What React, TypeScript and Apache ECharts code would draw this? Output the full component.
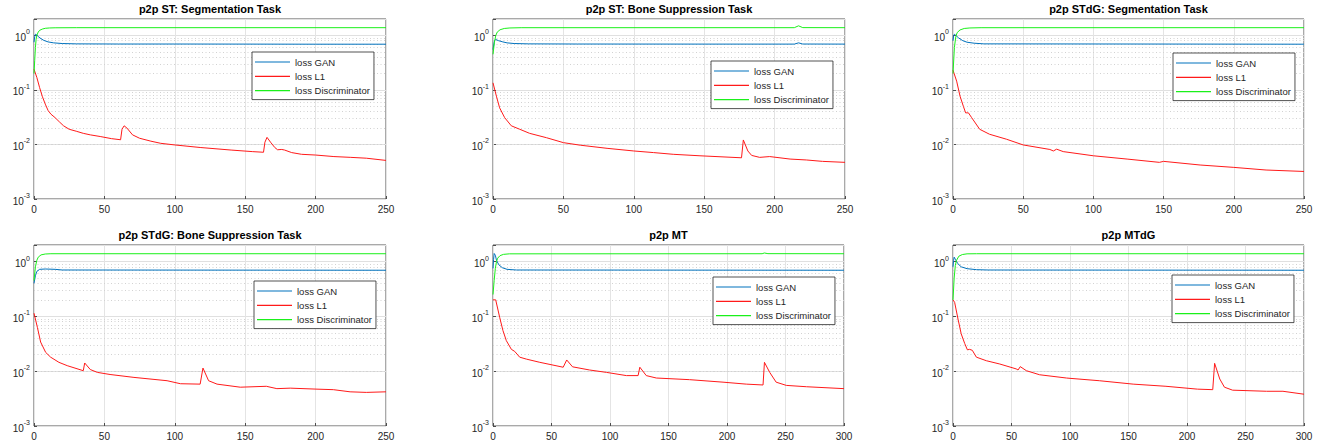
import React, { useEffect, useRef } from "react";
import * as echarts from "echarts";

const SERIES_NAMES = ["loss GAN", "loss L1", "loss Discriminator"];
const COLORS = ["#0072BD", "#FF1A1A", "#1AF01A"];
const TITLES = [
  "p2p ST: Segmentation Task",
  "p2p ST: Bone Suppression Task",
  "p2p STdG: Segmentation Task",
  "p2p STdG: Bone Suppression Task",
  "p2p MT",
  "p2p MTdG",
];
const X_MAX = [250, 250, 250, 250, 300, 300];
const X_INTERVAL = 50;
const Y_MIN = 0.001;
const Y_MAX = 2;
const MINOR_Y = [
  0.002, 0.003, 0.004, 0.005, 0.006, 0.007, 0.008, 0.009,
  0.02, 0.03, 0.04, 0.05, 0.06, 0.07, 0.08, 0.09,
  0.2, 0.3, 0.4, 0.5, 0.6, 0.7, 0.8, 0.9,
];

// ---- p2p ST: Segmentation Task ----
const st_seg_gan = [[0,0.75],[0.5,0.95],[1,1.05],[2,1.02],[3,0.95],[5,0.87],[7,0.81],[10,0.76],[14,0.73],[20,0.71],[30,0.70],[60,0.695],[100,0.695],[150,0.693],[200,0.69],[250,0.69]];
const st_seg_l1 = [[0,0.24],[2,0.17],[4,0.11],[6,0.075],[8,0.055],[10,0.042],[12,0.036],[15,0.031],[18,0.026],[21,0.022],[25,0.019],[30,0.0175],[35,0.016],[40,0.015],[47,0.014],[55,0.0128],[61.5,0.0122],[62.5,0.019],[64,0.022],[66,0.02],[70,0.015],[75,0.013],[83,0.0115],[90,0.0105],[100,0.0098],[118,0.0088],[140,0.0079],[155,0.0074],[163,0.0072],[164,0.011],[165.5,0.0135],[168,0.011],[171,0.0088],[173,0.008],[176,0.0081],[178,0.0079],[183,0.0071],[190,0.0066],[200,0.0064],[213,0.006],[225,0.0058],[236,0.0056],[250,0.0051]];
const st_seg_disc = [[0,0.2],[0.5,0.35],[1,0.6],[1.5,0.85],[2,1.0],[3,1.15],[4,1.24],[6,1.31],[8,1.35],[11,1.37],[15,1.38],[30,1.386],[250,1.386]];

// ---- p2p ST: Bone Suppression Task ----
const st_bone_gan = [[0,0.55],[1,0.8],[2,0.84],[4,0.8],[7,0.76],[10,0.73],[15,0.71],[25,0.70],[60,0.695],[150,0.693],[214,0.693],[217,0.73],[220,0.695],[250,0.693]];
const st_bone_l1 = [[0,0.135],[2.4,0.077],[4.7,0.047],[8.3,0.031],[13,0.022],[19,0.019],[26,0.016],[38,0.0133],[50,0.0108],[62,0.0097],[81,0.0085],[100,0.0076],[114,0.0071],[128,0.0066],[147,0.0062],[176.5,0.0057],[177.8,0.0121],[181,0.0076],[183.7,0.0063],[189.4,0.0058],[196.5,0.006],[211,0.0054],[222.5,0.0052],[234,0.0049],[250,0.0047]];
const st_bone_disc = [[0,0.45],[1,0.75],[2,1.0],[3,1.15],[5,1.27],[8,1.34],[12,1.37],[20,1.385],[214,1.386],[217,1.5],[220,1.39],[250,1.386]];

// ---- p2p STdG: Segmentation Task ----
const stdg_seg_gan = [[0,0.8],[0.5,1.0],[1,1.05],[2,1.0],[4,0.9],[7,0.8],[10,0.75],[15,0.72],[22,0.70],[250,0.69]];
const stdg_seg_l1 = [[0,0.23],[2.6,0.145],[5,0.077],[7.4,0.05],[9,0.038],[11,0.038],[13.3,0.031],[19,0.019],[26,0.0154],[38,0.0125],[50,0.0098],[69,0.0081],[71.5,0.0076],[73.8,0.0082],[78.5,0.0074],[100,0.0062],[124,0.0054],[147,0.0047],[150,0.0049],[176,0.0042],[200,0.0038],[223,0.0034],[250,0.0032]];
const stdg_seg_disc = [[0,0.2],[1,0.6],[2,0.95],[3,1.13],[5,1.26],[8,1.34],[12,1.37],[20,1.385],[250,1.386]];

// ---- p2p STdG: Bone Suppression Task ----
const stdg_bone_gan = [[0,0.4],[1,0.55],[2,0.66],[4,0.72],[8,0.73],[15,0.72],[20,0.70],[250,0.693]];
const stdg_bone_l1 = [[0,0.114],[2.4,0.063],[4.7,0.034],[8.3,0.022],[11.8,0.018],[17.7,0.0145],[23.6,0.0126],[35,0.0102],[36,0.0141],[40,0.0107],[45,0.0095],[54,0.0087],[71,0.0077],[94.5,0.0067],[104,0.0059],[118,0.0058],[120,0.0114],[124,0.0067],[130,0.0058],[146.5,0.0051],[165,0.0053],[172.5,0.0048],[182,0.0049],[201,0.0047],[212.6,0.0046],[224.5,0.0042],[236,0.0041],[250,0.0042]];
const stdg_bone_disc = [[0,0.45],[1,0.8],[2,1.05],[3,1.2],[5,1.32],[8,1.37],[12,1.386],[250,1.386]];

// ---- p2p MT ----
const mt_gan = [[0,0.75],[0.5,1.1],[1,1.4],[2,1.3],[3,1.05],[5,0.87],[8,0.77],[12,0.72],[20,0.70],[300,0.693]];
const mt_l1 = [[0,0.2],[2.3,0.2],[5.7,0.096],[8.5,0.055],[11.4,0.036],[15.7,0.025],[18.5,0.023],[22.8,0.018],[28.5,0.0166],[40,0.0145],[60,0.0118],[63,0.016],[68,0.012],[82.6,0.0105],[97,0.0095],[114,0.0083],[124,0.0083],[125.5,0.0118],[131,0.0083],[139.6,0.0075],[168,0.007],[196.6,0.0063],[216.5,0.0058],[230.8,0.0056],[232,0.0145],[236.5,0.0095],[242,0.0063],[250.7,0.0055],[268,0.0052],[300,0.0048]];
const mt_disc = [[0,0.25],[1,0.45],[2,0.75],[3,1.0],[4,1.15],[6,1.28],[9,1.35],[14,1.38],[230,1.386],[232,1.43],[235,1.39],[300,1.386]];

// ---- p2p MTdG ----
const mtdg_gan = [[0,0.8],[0.5,1.05],[1,1.2],[2,1.1],[4,0.92],[7,0.8],[12,0.74],[20,0.71],[30,0.70],[300,0.693]];
const mtdg_l1 = [[0,0.2],[1.4,0.18],[4.3,0.089],[7,0.048],[10,0.032],[12.3,0.0245],[14.2,0.025],[16.5,0.024],[20,0.018],[28.5,0.0155],[40,0.0135],[54,0.011],[55.6,0.0105],[57.5,0.0121],[62.7,0.0102],[74,0.0086],[97,0.0075],[100,0.0074],[125,0.0067],[154,0.0058],[182,0.0053],[209,0.0047],[222,0.0046],[223.6,0.0139],[228,0.0072],[232,0.0051],[239,0.0045],[268,0.0043],[282,0.0043],[300,0.0038]];
const mtdg_disc = [[0,0.2],[1,0.5],[2,0.85],[3,1.05],[5,1.25],[8,1.34],[12,1.38],[20,1.386],[300,1.386]];

const PANEL_DATA = [
  [st_seg_gan, st_seg_l1, st_seg_disc],
  [st_bone_gan, st_bone_l1, st_bone_disc],
  [stdg_seg_gan, stdg_seg_l1, stdg_seg_disc],
  [stdg_bone_gan, stdg_bone_l1, stdg_bone_disc],
  [mt_gan, mt_l1, mt_disc],
  [mtdg_gan, mtdg_l1, mtdg_disc],
];

// layout (pixels)
const GRIDS = [
  { left: 34, top: 19, width: 352, height: 180 },
  { left: 493, top: 19, width: 352, height: 180 },
  { left: 953, top: 19, width: 351, height: 180 },
  { left: 34, top: 245, width: 352, height: 181 },
  { left: 493, top: 245, width: 351, height: 181 },
  { left: 953, top: 245, width: 351, height: 181 },
];
const LEGEND_POS = [
  { left: 252, top: 52 },
  { left: 711, top: 61 },
  { left: 1173, top: 53 },
  { left: 254, top: 281 },
  { left: 713, top: 277 },
  { left: 1172, top: 275 },
];
const TITLE_Y = [9, 9, 9, 235, 235, 235];

const FONT = '"Liberation Sans", Arial, Helvetica, sans-serif';
const TXT = "#262626";

export default function App() {
  const ref = useRef<HTMLDivElement>(null);
  useEffect(() => {
    const chart = echarts.init(ref.current!, null, { renderer: "svg" });
    const grid: any[] = [];
    const xAxis: any[] = [];
    const yAxis: any[] = [];
    const series: any[] = [];
    const legend: any[] = [];
    const graphic: any[] = [];

    GRIDS.forEach((g, i) => {
      grid.push({ ...g, show: true, borderColor: TXT, borderWidth: 0.8, backgroundColor: "transparent" });
      xAxis.push({
        type: "value",
        gridIndex: i,
        min: 0,
        max: X_MAX[i],
        interval: X_INTERVAL,
        axisLine: { show: false },
        axisTick: { show: true, inside: true, length: 3, lineStyle: { color: TXT, width: 0.8 } },
        axisLabel: { fontSize: 10, color: TXT, fontFamily: FONT, margin: 5 },
        splitLine: { show: true, lineStyle: { color: "#e4e4e4", width: 1 } },
      });
      yAxis.push({
        type: "log",
        logBase: 10,
        gridIndex: i,
        min: Y_MIN,
        max: Y_MAX,
        axisLine: { show: false },
        axisTick: { show: true, inside: true, length: 3, lineStyle: { color: TXT, width: 0.8 } },
        axisLabel: {
          margin: 4,
          formatter: (v: number) => {
            const e = Math.round(Math.log10(v));
            if (Math.abs(v / Math.pow(10, e) - 1) > 1e-6) return "";
            return `{b|10}{e|${e}}`;
          },
          rich: {
            b: { fontSize: 10, color: TXT, fontFamily: FONT, lineHeight: 14, verticalAlign: "bottom" },
            e: { fontSize: 7, color: TXT, fontFamily: FONT, lineHeight: 8, verticalAlign: "top" },
          },
        },
        splitLine: { show: true, lineStyle: { color: "#e0e0e0", width: 1 } },
      });
      const cx = g.left + g.width / 2;
      graphic.push({
        type: "text",
        x: cx,
        y: TITLE_Y[i],
        style: {
          text: TITLES[i],
          align: "center",
          verticalAlign: "middle",
          textAlign: "center",
          textVerticalAlign: "middle",
          fontSize: 11,
          fontWeight: "bold",
          fontFamily: FONT,
          fill: "#000",
        },
      });
      PANEL_DATA[i].forEach((d, k) => {
        const s: any = {
          type: "line",
          name: SERIES_NAMES[k],
          xAxisIndex: i,
          yAxisIndex: i,
          data: d,
          showSymbol: false,
          symbol: "none",
          silent: true,
          lineStyle: { color: COLORS[k], width: 1 },
          itemStyle: { color: COLORS[k] },
          z: 3 + k,
        };
        if (k === 0) {
          s.markLine = {
            silent: true,
            symbol: "none",
            label: { show: false },
            lineStyle: { color: "#d2d2d2", type: [1, 2.5], width: 1 },
            data: MINOR_Y.map((v) => ({ yAxis: v })),
            z: 1,
          };
        }
        series.push(s);
      });
      legend.push({
        ...LEGEND_POS[i],
        orient: "vertical",
        data: SERIES_NAMES,
        icon: "rect",
        itemWidth: 35,
        itemHeight: 1.2,
        itemGap: 3.3,
        padding: [4.5, 4, 3.5, 3],
        borderColor: TXT,
        borderWidth: 0.8,
        backgroundColor: "#fff",
        selectedMode: false,
        textStyle: { fontSize: 9.5, color: TXT, fontFamily: FONT, lineHeight: 11 },
        z: 10,
      });
    });

    chart.setOption({
      animation: false,
      backgroundColor: "#fff",
      grid,
      xAxis,
      yAxis,
      series,
      legend,
      graphic,
    });
    return () => chart.dispose();
  }, []);
  return (
    <div
      ref={ref}
      style={{ position: "fixed", left: 0, top: 0, width: 1334, height: 448, background: "#fff" }}
    />
  );
}
